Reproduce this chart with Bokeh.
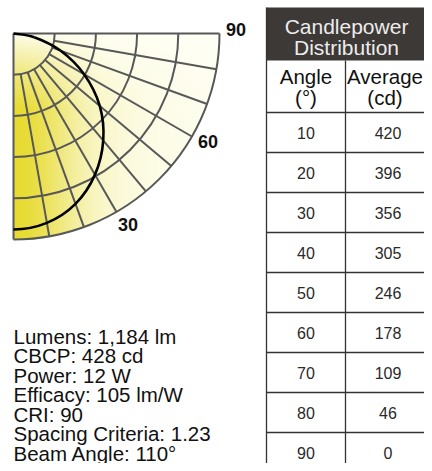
import numpy as np
from bokeh.plotting import figure
from bokeh.models import Range1d
from bokeh.layouts import row
from bokeh.embed import file_html
from bokeh.resources import INLINE
from bokeh.core.properties import value

# ---------------- data ----------------
curve_angles = [0, 10, 20, 30, 40, 50, 60, 70, 80, 90]          # degrees from nadir
curve_candela = [428, 420, 396, 356, 305, 246, 178, 109, 46, 0]   # cd

table_angle = [10, 20, 30, 40, 50, 60, 70, 80, 90]
table_average = [420, 396, 356, 305, 246, 178, 109, 46, 0]

grid_radii = [90, 180, 270, 360, 450]          # cd rings
spoke_angles = [0, 10, 20, 30, 40, 50, 60, 70, 80, 90]
angle_label_values = [30, 60, 90]
angle_label_text = ["30", "60", "90"]

spec_lines = [
    "Lumens: 1,184 lm",
    "CBCP: 428 cd",
    "Power: 12 W",
    "Efficacy: 105 lm/W",
    "CRI: 90",
    "Spacing Criteria: 1.23",
    "Beam Angle: 110\u00b0",
]

header_lines = ["Candlepower", "Distribution"]
col_heads_left = ["Angle", "(\u00b0)"]
col_heads_right = ["Average", "(cd)"]

FONT = value("Liberation Sans")
H = 463
LW = 262
TW = 162

# ---------------- polar figure ----------------
RMAX = 450.0
k = RMAX / 206.0   # cd per pixel
cx_px, cy_px = 13, 33

p1 = figure(width=LW, height=H, output_backend="svg", toolbar_location=None,
            x_range=Range1d(-cx_px * k, (LW - cx_px) * k),
            y_range=Range1d(-(H - cy_px) * k, cy_px * k),
            min_border=0)
p1.axis.visible = False
p1.grid.visible = False
p1.outline_line_color = None
p1.background_fill_color = "white"
p1.border_fill_color = "white"

# gradient fill of the quarter disc (style only)
N = 420
img = np.zeros((N, N), dtype=np.uint32)
view = img.view(dtype=np.uint8).reshape((N, N, 4))
ii = (np.arange(N) + 0.5) / N * RMAX
X, Y = np.meshgrid(ii, -RMAX + ii)
Rr = np.hypot(X, Y)
dxp = X / k            # px right of the centre
dyp = -Y / k           # px below the centre
hx = 0.8 * np.exp(-(dxp / 60.0) ** 2) + 0.2 * np.exp(-(dxp / 150.0) ** 2)
vy = np.clip(dyp / 75.0, 0, 1) ** 0.8
s = np.clip(hx * vy, 0, 1)
white = np.array([255, 255, 246.0])
yellow = np.array([231, 219, 50.0])
for c in range(3):
    view[:, :, c] = (white[c] + (yellow[c] - white[c]) * s).astype(np.uint8)
view[:, :, 3] = np.where(Rr <= RMAX + 1, 255, 0).astype(np.uint8)
p1.image_rgba(image=[img], x=0, y=-RMAX, dw=RMAX, dh=RMAX)

# rings
p1.arc(x=0, y=0, radius=grid_radii, start_angle=-np.pi / 2, end_angle=0,
       line_color="#585858", line_width=2)

# spokes
sa = np.radians(spoke_angles)
r0 = np.array([0 if a in (0, 90) else grid_radii[0] for a in spoke_angles], dtype=float)
p1.segment(x0=r0 * np.sin(sa), y0=-r0 * np.cos(sa),
           x1=RMAX * np.sin(sa), y1=-RMAX * np.cos(sa),
           line_color="#585858", line_width=2)

# candela curve drawn as a smooth path through the measured points
ca = np.radians(curve_angles)
cv = np.array(curve_candela, dtype=float)
P = np.column_stack([cv * np.sin(ca), -cv * np.cos(ca)])
Pe = np.vstack([[-P[1][0], P[1][1]], P, P[-1]])   # mirrored point at nadir for the end tangent
x0s, y0s, x1s, y1s, cx0, cy0, cx1, cy1 = [], [], [], [], [], [], [], []
for i in range(len(P) - 1):
    a, b, c_ = Pe[i], Pe[i + 1], Pe[i + 2]
    d = Pe[i + 3] if i + 3 < len(Pe) else Pe[i + 2]
    c0 = b + (c_ - a) / 6.0
    c1 = c_ - (d - b) / 6.0
    x0s.append(b[0]); y0s.append(b[1]); x1s.append(c_[0]); y1s.append(c_[1])
    cx0.append(c0[0]); cy0.append(c0[1]); cx1.append(c1[0]); cy1.append(c1[1])
p1.bezier(x0=x0s, y0=y0s, x1=x1s, y1=y1s, cx0=cx0, cy0=cy0, cx1=cx1, cy1=cy1,
          line_color="black", line_width=2.6)

# angle labels
la = np.radians(np.array(angle_label_values) + 1.0)
lr = 486.0
p1.text(x=lr * np.sin(la), y=-lr * np.cos(la), text=angle_label_text,
        text_font=FONT, text_font_style="bold", text_font_size="18px",
        text_color="#111111", text_align="center", text_baseline="middle")

# spec text (y of each line's middle, in pixels from the top)
mid0 = 335.5
step = 19.5
sy = [(cy_px - (mid0 + step * i)) * k for i in range(len(spec_lines))]
p1.text(x=[0] * len(spec_lines), y=sy, text=spec_lines, text_font=FONT,
        text_font_size="20.5px", text_color="#111111", text_align="left",
        text_baseline="middle")

# ---------------- table figure (pixel coordinates) ----------------
p2 = figure(width=TW, height=H, output_backend="svg", toolbar_location=None,
            x_range=Range1d(LW, LW + TW), y_range=Range1d(H, 0),
            min_border=0)
p2.axis.visible = False
p2.grid.visible = False
p2.outline_line_color = None
p2.background_fill_color = "white"
p2.border_fill_color = "white"

tl, tdiv, tr = 266.0, 345.0, 432.0
ttop, thead, tsub = 7.0, 60.0, 112.0
rowh = 40.0

p2.quad(left=tl, right=tr + 10, top=ttop, bottom=thead, fill_color="#3d3936", line_color=None)
p2.text(x=[(tl + tr) / 2 - 3] * 2, y=[25.9, 46.9], text=header_lines, text_font=FONT,
        text_font_size="21px", text_color="#ececec", text_align="center",
        text_baseline="middle")

lc = (tl + tdiv) / 2
rc = 384.5
p2.text(x=[lc] * 2, y=[75.9, 96.6], text=col_heads_left, text_font=FONT,
        text_font_size="20.5px", text_color="#111111", text_align="center",
        text_baseline="middle")
p2.text(x=[rc] * 2, y=[75.9, 96.6], text=col_heads_right, text_font=FONT,
        text_font_size="20.5px", text_color="#111111", text_align="center",
        text_baseline="middle")

nrows = len(table_angle)
hy = [tsub + rowh * i for i in range(nrows + 1)]
p2.segment(x0=[tl] * len(hy), y0=hy, x1=[tr + 10] * len(hy), y1=hy,
           line_color="#333333", line_width=1.3)
p2.segment(x0=[tl, tdiv], y0=[ttop, thead], x1=[tl, tdiv], y1=[hy[-1], hy[-1]],
           line_color="#333333", line_width=1.3)

ry = [tsub + rowh * (i + 0.5) for i in range(nrows)]
p2.text(x=[lc] * nrows, y=ry, text=[str(a) for a in table_angle], text_font=FONT,
        text_font_size="16px", text_color="#2a2a2a", text_align="center",
        text_baseline="middle")
p2.text(x=[rc + 3] * nrows, y=ry, text=[str(v) for v in table_average], text_font=FONT,
        text_font_size="16px", text_color="#2a2a2a", text_align="center",
        text_baseline="middle")

layout = row(p1, p2)
open("out.html", "w").write(file_html(layout, INLINE))
